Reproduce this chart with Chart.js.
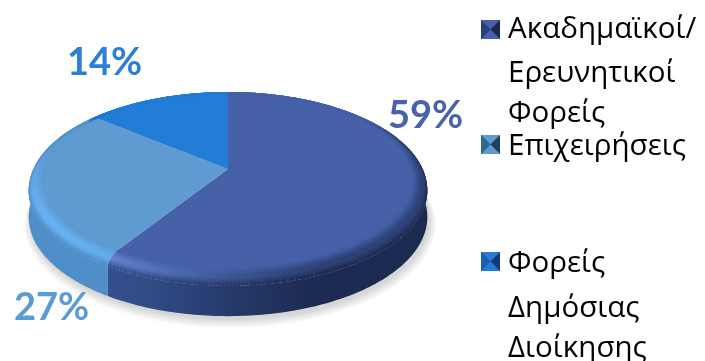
<!DOCTYPE html>
<html>
<head>
<meta charset="utf-8">
<style>
    html, body { margin: 0; padding: 0; background: #ffffff; }
    #myChart { display: block; }
</style>
<script src="https://cdn.jsdelivr.net/npm/chart.js@4"></script>
</head>
<body>
<canvas id="myChart" width="705" height="361"></canvas>
<script>
const categories = [
    ["Ακαδημαϊκοί/", "Ερευνητικοί", "Φορείς"],
    ["Επιχειρήσεις"],
    ["Φορείς", "Δημόσιας", "Διοίκησης"]
];
const values = [59, 27, 14];

const faceColors  = ["#4661a7", "#5f9ad1", "#237cd6"];
const hiColors    = ["#6d8cdc", "#68b2f2", "#4a9cf0"];
const wallLight   = ["#34508f", "#4f8ec8", "#1f6fc0"];
const wallDark    = ["#1b2a50", "#3f78ad", "#1a5ca0"];
const labelColors = ["#4a62a8", "#5b9bd5", "#2a7fd8"];
const markerSides = ["#2a4080", "#2f6a90", "#1a5fb0"];
const markerDark  = ["#1a2a4f", "#1f3f5f", "#153a70"];

// where the percent labels and the legend rows sit
const labelSpots  = [[388, 128], [14, 320], [67, 75]];
const legendTops  = [20, 135, 252];
const legendLines = [[38, 82, 122], [155], [272, 317, 357]];

const tilt = 0.135, xScale = 1.1065, yScale = 0.517;
const rimR = 1.055, rimZ = 8, baseZ = 34, bevelStart = 0.97;
const toRad = Math.PI / 180;

function hexToRgb(hex)
{
    return [1, 3, 5].map(i => parseInt(hex.substr(i, 2), 16));
}
function mix(a, b, t)
{
    return a.map((v, i) => v + (b[i] - v) * t);
}
function css(c)
{
    return "rgb(" + c.map(Math.round).join(",") + ")";
}
function smooth(a, b, x)
{
    const t = Math.min(1, Math.max(0, (x - a) / (b - a)));
    return t * t * (3 - 2 * t);
}

// theta is degrees clockwise from the top of the disc
function project(arc, theta, r, z)
{
    const R = arc.outerRadius;
    const u = Math.sin(theta * toRad) * r;
    const v = Math.cos(theta * toRad) * r;
    const w = 1 + tilt * v;
    return [arc.x + xScale * R * u / w, arc.y - yScale * R * v / w + z / w];
}
function sliceRange(arc)
{
    return [arc.startAngle / toRad + 90, arc.endAngle / toRad + 90];
}
function wallColor(i, theta)
{
    return mix(hexToRgb(wallDark[i]), hexToRgb(wallLight[i]), smooth(150, 215, theta));
}
function bevelColor(i, theta, t)
{
    const face = hexToRgb(faceColors[i]);
    const fade = smooth(40, 90, theta) * (1 - smooth(290, 330, theta));
    const edge = mix(face, wallColor(i, theta), fade);
    const h = Math.pow(Math.max(0, Math.cos((theta - 235) * toRad)), 3);
    const mid = mix(mix(face, edge, 0.55), hexToRgb(hiColors[i]), h);
    return t < 0.5 ? mix(face, mid, smooth(0, 0.5, t)) : mix(mid, edge, smooth(0.5, 1, t));
}
function quad(ctx, a, b, c, d, color)
{
    ctx.beginPath();
    ctx.moveTo(a[0], a[1]);
    ctx.lineTo(b[0], b[1]);
    ctx.lineTo(c[0], c[1]);
    ctx.lineTo(d[0], d[1]);
    ctx.closePath();
    ctx.fillStyle = color;
    ctx.fill();
}
// soft ground shadow, stacked outlines that grow outward and fade
function drawShadow(ctx, arc)
{
    for (let k = 9; k >= 0; k--) {
        ctx.beginPath();
        for (let a = 0; a < 360; a += 3) {
            const p = project(arc, a, rimR * (1 + k * 0.0035), baseZ + 3 + k * 0.4);
            ctx.lineTo(p[0] + 2, p[1]);
        }
        ctx.closePath();
        ctx.fillStyle = "rgba(0,0,0,0.018)";
        ctx.fill();
    }
}
function drawWall(ctx, arc, i)
{
    const range = sliceRange(arc);
    const from = Math.max(range[0], 60), to = Math.min(range[1], 300);
    if (to <= from) return;
    // one outline per slice, shaded left to right so the side stays smooth
    const left = arc.x - xScale * arc.outerRadius * rimR * 1.05;
    const right = arc.x + xScale * arc.outerRadius * rimR * 1.05;
    const grad = ctx.createLinearGradient(left, 0, right, 0);
    for (let a = 270; a >= 90; a -= 10) {
        const stop = (project(arc, a, rimR, rimZ)[0] - left) / (right - left);
        grad.addColorStop(Math.min(1, Math.max(0, stop)), css(wallColor(i, a)));
    }
    ctx.beginPath();
    for (let a = from; a <= to; a += 1) {
        const p = project(arc, a, rimR, rimZ);
        ctx.lineTo(p[0], p[1]);
    }
    const topEnd = project(arc, to, rimR, rimZ);
    ctx.lineTo(topEnd[0], topEnd[1]);
    const baseEnd = project(arc, to, rimR, baseZ);
    ctx.lineTo(baseEnd[0], baseEnd[1]);
    for (let a = to; a >= from; a -= 1) {
        const p = project(arc, a, rimR, baseZ);
        ctx.lineTo(p[0], p[1]);
    }
    const baseStart = project(arc, from, rimR, baseZ);
    ctx.lineTo(baseStart[0], baseStart[1]);
    ctx.closePath();
    ctx.fillStyle = grad;
    ctx.fill();
}
function drawBevel(ctx, arc, i)
{
    const range = sliceRange(arc);
    const steps = 16;
    for (let s = 0; s < steps; s++) {
        const e0 = s / steps, e1 = Math.min((s + 1.4) / steps, 1);
        const r0 = bevelStart + (rimR - bevelStart) * Math.sin(e0 * Math.PI / 2);
        const r1 = bevelStart + (rimR - bevelStart) * Math.sin(e1 * Math.PI / 2);
        const z0 = rimZ * (1 - Math.cos(e0 * Math.PI / 2));
        const z1 = rimZ * (1 - Math.cos(e1 * Math.PI / 2));
        for (let a = range[0]; a < range[1]; a += 1) {
            // runs a little past the next step, the next quad paints over the seam
            const b = Math.min(a + 1.6, range[1]);
            quad(ctx, project(arc, a, r0, z0), project(arc, b, r0, z0),
                project(arc, b, r1, z1), project(arc, a, r1, z1), css(bevelColor(i, a, (s + 0.5) / steps)));
        }
    }
}
function drawFace(ctx, arc, i)
{
    const range = sliceRange(arc);
    ctx.beginPath();
    ctx.moveTo(arc.x, arc.y);
    for (let a = range[0]; a < range[1]; a += 1) {
        const p = project(arc, a, 1, 0);
        ctx.lineTo(p[0], p[1]);
    }
    const end = project(arc, range[1], 1, 0);
    ctx.lineTo(end[0], end[1]);
    ctx.closePath();
    ctx.fillStyle = faceColors[i];
    ctx.fill();
}
function drawMarker(ctx, i, x, y, s)
{
    const cx = x + s / 2, cy = y + s / 2;
    const tri = (ax, ay, bx, by, color) => {
        ctx.beginPath();
        ctx.moveTo(cx, cy);
        ctx.lineTo(ax, ay);
        ctx.lineTo(bx, by);
        ctx.closePath();
        ctx.fillStyle = color;
        ctx.fill();
    };
    ctx.fillStyle = markerSides[i];
    ctx.fillRect(x, y, s, s);
    tri(x, y, x + s, y, faceColors[i]);
    tri(x + s, y, x + s, y + s, markerDark[i]);
    tri(x + s, y + s, x, y + s, faceColors[i]);
    tri(x, y + s, x, y, markerSides[i]);
}

// the arcs are laid out by Chart.js, this only paints them as a tilted disc
const tiltedPie = {
    id: "tiltedPie",
    beforeDatasetsDraw(chart)
    {
        const ctx = chart.ctx;
        const arcs = chart.getDatasetMeta(0).data;
        drawShadow(ctx, arcs[0]);
        arcs.forEach((arc, i) => drawWall(ctx, arc, i));
        arcs.forEach((arc, i) => drawFace(ctx, arc, i));
        arcs.forEach((arc, i) => drawBevel(ctx, arc, i));
        return false;
    },
    afterDraw(chart)
    {
        const ctx = chart.ctx;
        ctx.save();
        ctx.textAlign = "left";
        ctx.textBaseline = "alphabetic";
        ctx.font = "bold 38px Lato";
        values.forEach((v, i) => {
            ctx.fillStyle = labelColors[i];
            ctx.fillText(v + "%", labelSpots[i][0], labelSpots[i][1]);
        });
        ctx.font = "29.5px 'Open Sans'";
        categories.forEach((lines, i) => {
            drawMarker(ctx, i, 481, legendTops[i], 19);
            ctx.fillStyle = "#000000";
            lines.forEach((line, j) => ctx.fillText(line, 508, legendLines[i][j]));
        });
        ctx.restore();
    }
};

new Chart(document.getElementById("myChart").getContext("2d"), {
    type: "pie",
    data: {
        labels: categories.map(c => c.join(" ")),
        datasets: [{ data: values, backgroundColor: faceColors, borderWidth: 0 }]
    },
    options: {
        responsive: false,
        animation: false,
        layout: { padding: { right: 249, bottom: 23 } },
        plugins: { legend: { display: false }, tooltip: { enabled: false } }
    },
    plugins: [tiltedPie]
});
</script>
</body>
</html>
